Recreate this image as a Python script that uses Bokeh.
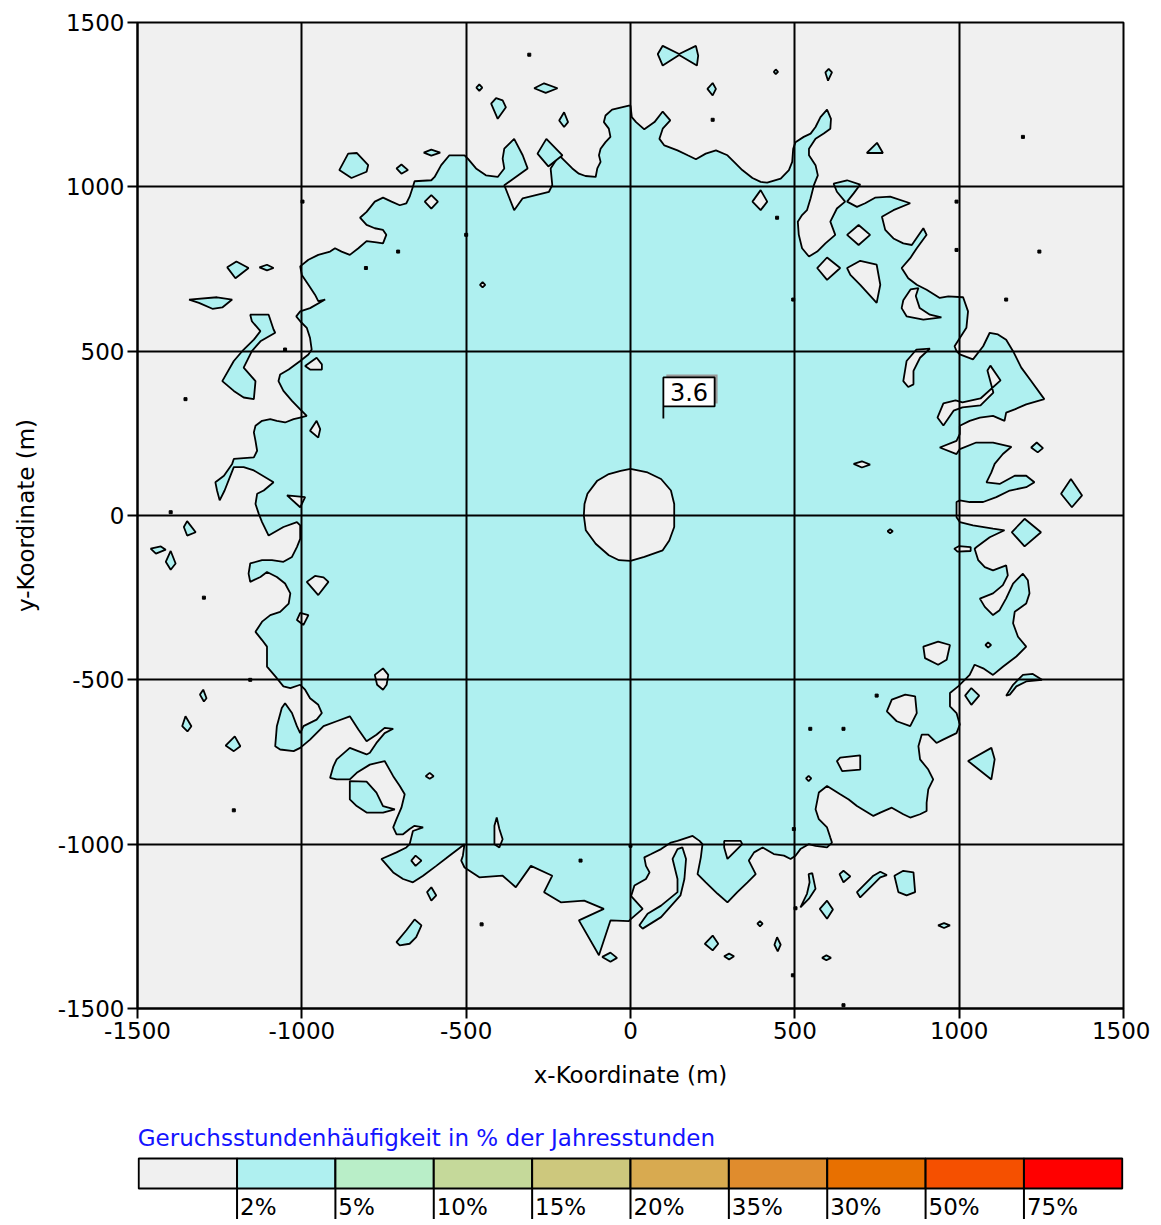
from bokeh.plotting import figure
from bokeh.models import Range1d, FixedTicker
from bokeh.layouts import column
from bokeh.embed import file_html
from bokeh.resources import INLINE
from bokeh.core.properties import value

FONT = "DejaVu Sans"

# ---------------- data (metres) ----------------
axis_ticks = [-1500, -1000, -500, 0, 500, 1000, 1500]
grid_ticks = [-1000, -500, 0, 500, 1000]

# outline of the main >2% area (counter-clockwise)
main_boundary = [
    (0, 1247), (-5, 1247), (-56, 1235), (-76, 1217), (-81, 1197), (-66, 1177), (-61, 1152), (-76, 1136),
    (-91, 1116), (-96, 1096), (-91, 1076), (-101, 1056), (-106, 1030), (-137, 1033), (-157, 1040),
    (-177, 1056), (-197, 1076), (-217, 1096), (-243, 1056), (-238, 1005), (-248, 985), (-288, 975),
    (-328, 965), (-354, 929), (-384, 1005), (-313, 1056), (-328, 1096), (-354, 1146), (-384, 1116),
    (-389, 1086), (-384, 1056), (-404, 1030), (-440, 1035), (-470, 1056), (-495, 1086), (-505, 1096),
    (-551, 1096), (-576, 1066), (-596, 1030), (-606, 1020), (-657, 1017), (-662, 1000), (-672, 970),
    (-682, 950), (-702, 944), (-727, 955), (-753, 967), (-778, 955), (-803, 924), (-823, 906), (-803, 884),
    (-778, 874), (-753, 869), (-743, 854), (-753, 828), (-773, 831), (-803, 835), (-828, 813), (-854, 793),
    (-879, 803), (-899, 813), (-914, 803), (-950, 793), (-980, 778), (-1005, 758), (-1000, 732), (-980, 702),
    (-960, 672), (-950, 652), (-929, 657), (-975, 631), (-1005, 621), (-1017, 606), (-1005, 591), (-985, 571),
    (-975, 540), (-970, 505), (-980, 490), (-1005, 470), (-1040, 444), (-1066, 429), (-1071, 409),
    (-1056, 379), (-1030, 349), (-1005, 323), (-985, 303), (-1005, 298), (-1025, 293), (-1051, 283),
    (-1076, 288), (-1096, 293), (-1121, 288), (-1141, 273), (-1146, 253), (-1141, 227), (-1136, 197),
    (-1146, 177), (-1207, 172), (-1212, 157), (-1237, 121), (-1263, 101), (-1258, 76), (-1250, 46),
    (-1235, 76), (-1207, 147), (-1177, 147), (-1146, 137), (-1086, 101), (-1116, 76), (-1136, 66),
    (-1141, 35), (-1131, 5),
    (-1121, -20), (-1101, -61), (-1056, -35), (-1015, -20), (-1005, -30), (-1005, -71), (-1015, -96),
    (-1030, -126), (-1056, -141), (-1091, -136), (-1121, -136), (-1157, -146), (-1162, -177), (-1157, -202),
    (-1126, -187), (-1106, -172), (-1076, -187), (-1051, -207), (-1035, -237), (-1040, -268), (-1066, -293),
    (-1096, -303), (-1121, -323), (-1141, -354), (-1121, -379), (-1106, -399), (-1106, -429), (-1106, -460),
    (-1076, -495), (-1056, -520), (-1035, -525), (-1005, -515), (-990, -530), (-975, -556), (-950, -576),
    (-939, -601), (-955, -621), (-995, -641), (-1005, -662), (-1015, -641), (-1030, -601), (-1051, -571),
    (-1061, -586), (-1076, -641), (-1081, -702), (-1066, -712), (-1025, -717), (-1005, -707), (-975, -682),
    (-934, -641), (-894, -626), (-854, -611), (-828, -651), (-803, -687), (-773, -667), (-748, -646),
    (-722, -649), (-748, -662), (-773, -692), (-793, -722), (-803, -727), (-854, -707), (-894, -742),
    (-904, -763), (-914, -798), (-894, -803), (-854, -803), (-833, -783), (-793, -758), (-748, -747),
    (-722, -793), (-702, -823), (-687, -848), (-697, -889), (-712, -924), (-722, -949), (-712, -970),
    (-692, -970), (-672, -954), (-657, -944), (-631, -949), (-662, -960), (-667, -980), (-672, -1000),
    (-682, -1010), (-712, -1025), (-758, -1045), (-722, -1086), (-692, -1106), (-662, -1116), (-631, -1096),
    (-591, -1066), (-551, -1035), (-505, -1000), (-510, -1035), (-515, -1050), (-505, -1071), (-460, -1101),
    (-389, -1096), (-349, -1131), (-303, -1066), (-238, -1096), (-263, -1146), (-212, -1177), (-141, -1172),
    (-81, -1197), (-157, -1232), (-96, -1338), (-61, -1232), (-5, -1234),
    (0, -1229), (37, -1197), (2, -1158), (12, -1126), (47, -1106), (58, -1086), (47, -1066), (42, -1040),
    (63, -1030), (93, -1015), (123, -995), (143, -990), (189, -975), (210, -990), (219, -1000), (214, -1040),
    (204, -1091), (229, -1116), (265, -1151), (295, -1177), (325, -1146), (356, -1116), (381, -1091),
    (360, -1050), (376, -1025), (402, -1010), (436, -1030), (467, -1035), (487, -1045), (502, -1035),
    (517, -1015), (542, -1000), (563, -1005), (598, -1010), (613, -995), (608, -980), (598, -949),
    (573, -924), (563, -894), (573, -843), (598, -823), (638, -848), (664, -864), (689, -884), (714, -899),
    (739, -914), (760, -904), (795, -889), (830, -909), (851, -919), (881, -909), (901, -899), (901, -874),
    (906, -833), (921, -803), (906, -773), (881, -742), (876, -702), (886, -667), (906, -667), (931, -692),
    (951, -682), (992, -662), (1002, -636), (992, -601), (972, -581), (972, -540), (997, -520), (1032, -485),
    (1047, -454), (1073, -465), (1103, -485), (1133, -460), (1174, -429), (1204, -399), (1179, -369),
    (1164, -328), (1169, -293), (1204, -268), (1214, -237), (1209, -197), (1194, -177), (1164, -207),
    (1143, -252), (1123, -288), (1103, -303), (1078, -278), (1063, -253), (1103, -237), (1133, -212),
    (1148, -182), (1143, -152), (1103, -167), (1078, -157), (1058, -136), (1047, -101), (1053, -96),
    (1093, -66), (1138, -45), (1103, -40), (1042, -30), (1002, -20), (992, -5),
    (992, 5), (992, 41), (1002, 46), (1032, 41), (1073, 41), (1113, 56), (1154, 76), (1204, 86), (1229, 101),
    (1204, 121), (1169, 121), (1123, 96), (1083, 101), (1098, 131), (1108, 157), (1133, 187), (1159, 209),
    (1103, 222), (1052, 222), (1002, 202), (992, 187), (941, 207), (992, 227), (1002, 248), (1002, 273),
    (1032, 288), (1063, 298), (1103, 303), (1138, 288), (1143, 313), (1169, 323), (1204, 338), (1259, 354),
    (1219, 409), (1189, 450), (1164, 500), (1143, 535), (1118, 551), (1093, 556), (1073, 515), (1042, 475),
    (1002, 490), (992, 500), (986, 515), (1002, 540), (1022, 571), (1027, 621), (1012, 664), (967, 667),
    (941, 662), (901, 687), (871, 702), (845, 722), (825, 753), (851, 783), (871, 813), (901, 854),
    (891, 874), (856, 823), (830, 828), (800, 843), (775, 869), (765, 909), (800, 929), (851, 950),
    (790, 970), (744, 967), (714, 950), (689, 939), (659, 955), (679, 980), (699, 1007), (659, 1020),
    (618, 1010), (628, 985), (653, 955), (628, 934), (608, 894), (623, 854), (593, 828), (568, 803),
    (543, 788), (522, 813), (512, 854), (509, 894), (522, 914), (537, 929), (548, 965), (558, 1005),
    (570, 1035), (563, 1066), (543, 1096), (543, 1116), (563, 1146), (588, 1162), (608, 1177), (610, 1207),
    (598, 1235), (578, 1212), (563, 1182), (548, 1162), (527, 1152), (502, 1136), (495, 1116), (492, 1076),
    (482, 1051), (457, 1025), (416, 1013), (396, 1015), (371, 1027), (340, 1051), (315, 1076), (295, 1096),
    (260, 1111), (229, 1101), (199, 1084), (174, 1096), (143, 1111), (103, 1126), (88, 1146), (98, 1177),
    (121, 1202), (98, 1229), (73, 1197), (42, 1175), (17, 1197), (4, 1212),
]

# areas below 2% inside the main area
holes = [
    [(0, 142), (52, 131), (93, 111), (123, 76), (133, 35), (133, -5), (133, -35), (118, -76), (98, -106),
     (42, -126), (0, -138), (-35, -136), (-66, -121), (-106, -86), (-136, -45), (-142, 0), (-140, 35),
     (-131, 66), (-101, 106), (-66, 126), (-30, 136)],
    [(-626, 955), (-606, 975), (-586, 955), (-606, 934)],
    [(-990, 455), (-955, 480), (-939, 460), (-939, 444), (-975, 444)],
    [(-975, 258), (-955, 288), (-944, 263), (-950, 237)],
    [(-1045, 61), (-990, 56), (-1005, 25)],
    [(-985, -202), (-960, -184), (-934, -188), (-919, -202), (-950, -242)],
    [(-1015, -318), (-1005, -296), (-980, -303), (-995, -333)],
    [(-778, -485), (-753, -465), (-737, -485), (-742, -515), (-753, -530), (-771, -515)],
    [(-623, -793), (-611, -783), (-599, -793), (-611, -801)],
    [(-414, -944), (-407, -919), (-399, -954), (-389, -985), (-399, -1010), (-414, -1000)],
    [(891, -399), (936, -384), (972, -394), (962, -439), (936, -454), (896, -434)],
    [(780, -596), (795, -560), (836, -545), (866, -550), (871, -601), (851, -641), (810, -626)],
    [(628, -747), (638, -737), (699, -730), (699, -773), (644, -778)],
    [(985, -101), (1000, -93), (1035, -96), (1035, -108), (995, -110)],
    [(285, -990), (335, -990), (340, -1000), (295, -1045), (285, -1010)],
    [(-667, -1050), (-654, -1035), (-636, -1050), (-654, -1066)],
    [(371, 955), (396, 990), (416, 955), (396, 929)],
    [(659, 854), (694, 884), (729, 854), (694, 823)],
    [(568, 753), (598, 785), (638, 753), (598, 717)],
    [(659, 753), (699, 775), (749, 763), (760, 702), (749, 647), (699, 702), (669, 732)],
    [(830, 655), (852, 688), (876, 692), (868, 668), (880, 631), (911, 611), (946, 603), (891, 596),
     (840, 606), (825, 631)],
    [(830, 409), (840, 470), (870, 505), (911, 508), (881, 480), (861, 440), (861, 399), (845, 391)],
    [(1095, 456), (1126, 411), (1065, 356), (1010, 344), (989, 350), (952, 341), (934, 298), (952, 274),
     (983, 319), (1010, 329), (1065, 335), (1104, 374), (1086, 441)],
    [(679, 157), (704, 165), (729, 155), (704, 146)],
    [(534, -800), (542, -792), (550, -800), (542, -808)],
    [(782, -48), (790, -42), (798, -48), (790, -54)],
    [(-458, 702), (-450, 710), (-442, 702), (-450, 694)],
    [(1080, -394), (1088, -386), (1097, -394), (1088, -402)],
]

# separate small areas above 2%
islands = [
    [(-886, 1051), (-859, 1101), (-833, 1103), (-798, 1066), (-803, 1046), (-849, 1027)],
    [(-712, 1056), (-697, 1068), (-677, 1051), (-697, 1040)],
    [(-629, 1104), (-606, 1113), (-579, 1104), (-606, 1095)],
    [(-469, 1302), (-460, 1312), (-451, 1302), (-460, 1292)],
    [(-424, 1253), (-409, 1270), (-389, 1263), (-379, 1242), (-404, 1207)],
    [(-293, 1300), (-263, 1315), (-222, 1300), (-258, 1286)],
    [(-217, 1202), (-202, 1227), (-190, 1197), (-202, 1182)],
    [(-283, 1101), (-256, 1146), (-207, 1096), (-250, 1062)],
    [(-1227, 755), (-1199, 773), (-1162, 753), (-1202, 722)],
    [(-1129, 755), (-1106, 763), (-1086, 753), (-1106, 746)],
    [(-1343, 657), (-1258, 664), (-1212, 657), (-1242, 633), (-1272, 629), (-1313, 647)],
    [(-1157, 611), (-1101, 611), (-1086, 566), (-1081, 556), (-1126, 530), (-1152, 500), (-1177, 450),
     (-1141, 409), (-1146, 354), (-1177, 359), (-1207, 379), (-1242, 409), (-1207, 470), (-1177, 505),
     (-1146, 535), (-1126, 561), (-1152, 591)],
    [(-1359, -35), (-1349, -17), (-1323, -51), (-1349, -61)],
    [(-1460, -101), (-1429, -94), (-1414, -104), (-1444, -116)],
    [(-1414, -141), (-1399, -108), (-1384, -146), (-1399, -165)],
    [(-1310, -545), (-1300, -530), (-1290, -556), (-1298, -566)],
    [(-1364, -641), (-1354, -611), (-1336, -641), (-1348, -657)],
    [(-1232, -700), (-1204, -672), (-1187, -702), (-1207, -717)],
    [(-854, -808), (-803, -810), (-773, -843), (-753, -884), (-717, -894), (-753, -904), (-803, -904),
     (-833, -884), (-854, -864)],
    [(-619, -1146), (-606, -1131), (-591, -1156), (-606, -1172)],
    [(-712, -1298), (-682, -1262), (-657, -1229), (-636, -1247), (-652, -1283), (-672, -1303), (-702, -1308)],
    [(-86, -1343), (-61, -1330), (-41, -1346), (-61, -1358)],
    [(143, -1015), (158, -1010), (169, -1045), (164, -1106), (152, -1156), (93, -1222), (37, -1257),
     (27, -1247), (52, -1212), (93, -1187), (143, -1146), (143, -1106), (128, -1045)],
    [(517, -1192), (537, -1151), (545, -1116), (542, -1091), (553, -1088), (563, -1136), (543, -1166)],
    [(636, -1091), (648, -1081), (669, -1098), (648, -1116)],
    [(689, -1146), (739, -1096), (760, -1084), (780, -1094), (760, -1101), (699, -1162)],
    [(803, -1096), (830, -1081), (861, -1086), (866, -1146), (840, -1156), (815, -1146)],
    [(576, -1197), (598, -1172), (616, -1199), (598, -1227)],
    [(386, -1242), (394, -1234), (402, -1242), (394, -1250)],
    [(226, -1303), (250, -1278), (267, -1303), (250, -1323)],
    [(438, -1306), (446, -1283), (457, -1306), (448, -1326)],
    [(285, -1341), (300, -1333), (315, -1341), (300, -1351)],
    [(583, -1346), (596, -1338), (610, -1346), (596, -1353)],
    [(936, -1247), (954, -1240), (972, -1247), (954, -1255)],
    [(1018, -548), (1037, -525), (1061, -548), (1037, -576)],
    [(1143, -548), (1164, -515), (1194, -485), (1224, -482), (1252, -500), (1204, -505), (1174, -520),
     (1154, -545)],
    [(1027, -747), (1098, -707), (1108, -742), (1098, -803)],
    [(1160, -51), (1199, -10), (1249, -51), (1199, -94)],
    [(83, 1404), (98, 1429), (148, 1404), (199, 1429), (206, 1399), (202, 1369), (148, 1401), (98, 1369)],
    [(436, 1350), (442, 1357), (449, 1350), (442, 1343)],
    [(593, 1348), (603, 1359), (613, 1348), (601, 1323)],
    [(234, 1298), (250, 1316), (260, 1298), (250, 1278)],
    [(719, 1103), (750, 1134), (768, 1103)],
    [(1219, 207), (1236, 222), (1255, 205), (1239, 192)],
    [(1310, 66), (1340, 111), (1374, 61), (1343, 25)],
]

# tiny contour specks
speck_x = [-998, -500, -707, -805, -308, -1354, -1051, -1399, 250, 446, 1194, 1244, 1143, 495, 992, 992,
           -1298, -1207, -453, -152, -1157, 749, 547, 648, 494, 648, 497, 502, 0]
speck_y = [955, 854, 803, 753, 1402, 354, 505, 10, 1204, 906, 1152, 803, 657, 657, 955, 808,
           -250, -897, -1244, -1050, -500, -548, -649, -649, -1399, -1490, -954, -1195, -1005]

# value label
callout_x, callout_y, callout_text = 100, 295, "3.6"

# legend
legend_title = "Geruchsstundenhäufigkeit in % der Jahresstunden"
legend_labels = ["2%", "5%", "10%", "15%", "20%", "35%", "30%", "50%", "75%"]
legend_colors = ["#F0F0F0", "#AFF0F0", "#B9EEC8", "#C5D99A", "#CDC87D", "#D8AA50",
                 "#E08C2D", "#E87000", "#F55000", "#FF0000"]

BG = legend_colors[0]
CYAN = legend_colors[1]

# ---------------- main plot ----------------
LEFT, RIGHT, TOP = 137, 27, 22
p = figure(width=1150, height=1108, x_range=Range1d(-1500, 1500), y_range=Range1d(-1500, 1500),
           output_backend="svg", toolbar_location=None,
           min_border_left=LEFT, min_border_right=RIGHT, min_border_top=TOP, min_border_bottom=100)
p.background_fill_color = BG
p.border_fill_color = "white"
p.outline_line_color = "black"
p.outline_line_width = 2

def split(ring):
    return [pt[0] for pt in ring], [pt[1] for pt in ring]

mx, my = split(main_boundary)
rings_x = [mx] + [split(h)[0] for h in holes]
rings_y = [my] + [split(h)[1] for h in holes]
p.multi_polygons(xs=[[rings_x]], ys=[[rings_y]], fill_color=CYAN, line_color="black", line_width=1.8)

isl_x = [[[split(i)[0]]] for i in islands]
isl_y = [[[split(i)[1]]] for i in islands]
p.multi_polygons(xs=isl_x, ys=isl_y, fill_color=CYAN, line_color="black", line_width=1.8)

p.scatter(speck_x, speck_y, marker="square", size=3, color="black")

# grid on top
for g in (p.xgrid, p.ygrid):
    g.ticker = FixedTicker(ticks=grid_ticks)
    g.grid_line_color = "black"
    g.grid_line_width = 2
    g.level = "overlay"

for ax in (p.xaxis, p.yaxis):
    ax.ticker = FixedTicker(ticks=axis_ticks)
    ax.major_label_overrides = {t: str(t) for t in axis_ticks}
    ax.major_tick_out = 10
    ax.major_tick_in = 0
    ax.major_tick_line_width = 2
    ax.major_tick_line_color = "black"
    ax.minor_tick_line_color = None
    ax.axis_line_color = "black"
    ax.axis_line_width = 2
    ax.major_label_text_font = FONT
    ax.major_label_text_font_size = "23px"
    ax.major_label_text_color = "black"
    ax.major_label_standoff = 3
    ax.axis_label_text_font = FONT
    ax.axis_label_text_font_size = "23px"
    ax.axis_label_text_font_style = "normal"
    ax.axis_label_text_color = "black"
p.xaxis.axis_label = "x-Koordinate (m)"
p.yaxis.axis_label = "y-Koordinate (m)"
p.xaxis.axis_label_standoff = 20
p.yaxis.axis_label_standoff = 16

# callout box "3.6"
bw, bh, boff, ptr = 156, 88, 37, 37
bx0, by0 = callout_x, callout_y + boff
p.quad(left=bx0 + 9, right=bx0 + bw + 9, bottom=by0 + 9, top=by0 + bh + 9,
       fill_color="#9A9A9A", line_color=None)
p.patch([bx0, bx0, bx0 + ptr, bx0 + bw, bx0 + bw, bx0],
        [callout_y, by0, by0, by0, by0 + bh, by0 + bh],
        fill_color="white", line_color="black", line_width=1.8)
p.text(x=[bx0 + bw / 2], y=[by0 + bh / 2], text=[callout_text], text_align="center",
       text_baseline="middle", text_font=value(FONT), text_font_size="24px", text_color="black")

# ---------------- legend ----------------
n = len(legend_colors)
leg = figure(width=1150, height=115, x_range=Range1d(-0.012, n + 0.012), y_range=Range1d(-1.167, 2.667),
             output_backend="svg", toolbar_location=None, x_axis_type=None, y_axis_type=None,
             min_border_left=LEFT, min_border_right=RIGHT, min_border_top=0, min_border_bottom=0)
leg.outline_line_color = None
leg.background_fill_color = "white"
leg.border_fill_color = "white"
leg.quad(left=list(range(n)), right=[i + 1 for i in range(n)], bottom=0, top=1,
         fill_color=legend_colors, line_color="black", line_width=2)
idx = list(range(1, n))
leg.segment(x0=idx, y0=[0] * len(idx), x1=idx, y1=[-1.02] * len(idx), line_color="black", line_width=2)
leg.text(x=[i + 0.03 for i in idx], y=[-0.62] * len(idx), text=legend_labels, text_align="left",
         text_baseline="middle", text_font=value(FONT), text_font_size="23px", text_color="black")
leg.text(x=[-0.01], y=[1.667], text=[legend_title], text_align="left", text_baseline="middle",
         text_font=value(FONT), text_font_size="23px", text_color="#1414FF")

layout = column(p, leg, spacing=0)
open("out.html", "w").write(file_html(layout, INLINE))
